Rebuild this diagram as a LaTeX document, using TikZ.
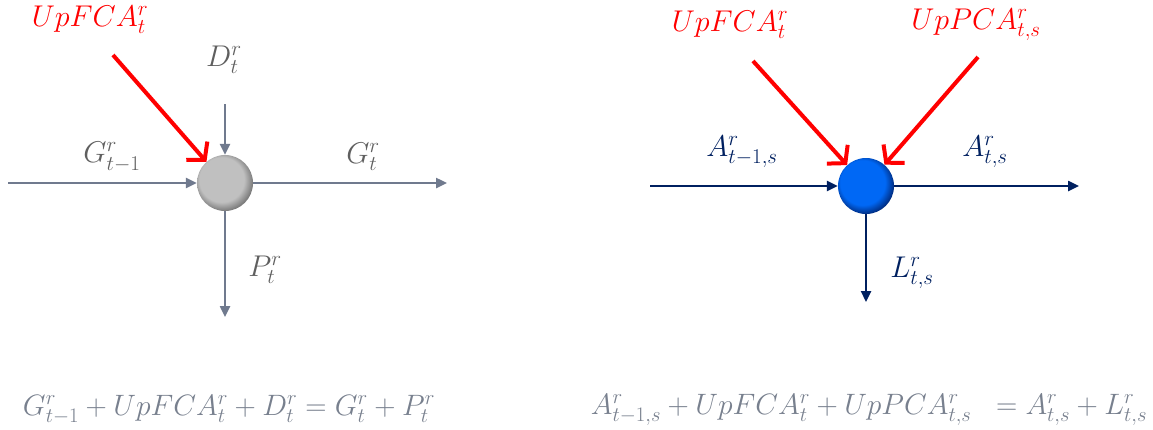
\RequirePackage{fix-cm}
\documentclass[tikz,border=0pt]{standalone}
\usepackage{tikz}
\usetikzlibrary{positioning,arrows.meta,calc}

\definecolor{flowgray}{RGB}{112,122,142}
\definecolor{labelgray}{RGB}{95,95,95}
\definecolor{eqgray}{RGB}{120,128,142}
\definecolor{navy}{RGB}{0,32,96}
\definecolor{ballgrayin}{RGB}{192,192,192}
\definecolor{ballgrayout}{RGB}{115,115,115}
\definecolor{ballbluein}{RGB}{0,104,245}
\definecolor{balldark}{RGB}{0,40,120}

\pgfdeclareradialshading{graysphere}{\pgfpoint{-5bp}{5bp}}{color(0bp)=(ballgrayin); color(20bp)=(ballgrayin); color(28bp)=(ballgrayout); color(50bp)=(ballgrayout)}
\pgfdeclareradialshading{bluesphere}{\pgfpoint{-5bp}{5bp}}{color(0bp)=(ballbluein); color(20bp)=(ballbluein); color(28bp)=(balldark); color(50bp)=(balldark)}

\begin{document}
\begin{tikzpicture}[
  x=1pt, y=-1pt,
  ball/.style={circle, minimum size=56pt, inner sep=0pt},
  lbl/.style={font=\fontsize{30}{36}\selectfont, inner sep=0pt},
  eq/.style={font=\fontsize{29.5}{36}\selectfont, text=eqgray, inner sep=0pt},
  grayarr/.style={-{Triangle[length=11pt,width=10pt]}, line width=2.4pt, flowgray},
  navyarr/.style={-{Triangle[length=11pt,width=10pt]}, line width=2.4pt, navy},
  redarr/.style={-{Straight Barb[length=12pt,width=28pt]}, line width=4pt, red}
]
\useasboundingbox (0,0) rectangle (1153,429);

% left balance node
\node[ball, shading=graysphere] (ballL) at (225,183) {};
\coordinate (inG) at (8,183);
\coordinate (outG) at (447,183);
\coordinate (inD) at (225,104);
\coordinate (outP) at (225,317);
\coordinate (inFL) at (113,55);
\draw[grayarr] (inG) -- (ballL);
\draw[grayarr] (ballL) -- (outG);
\draw[grayarr] (inD) -- (ballL);
\draw[grayarr] (ballL) -- (outP);
\draw[redarr] (inFL) -- (ballL);

\node[lbl, text=red] (upfL) at (90,20) {$UpFCA^r_t$};
\node[lbl, text=labelgray] (dL) at (224,60) {$D^r_t$};
\node[lbl, text=labelgray] (gprev) at (112,157) {$G^r_{t-1}$};
\node[lbl, text=labelgray] (gcur) at (363,157) {$G^r_t$};
\node[lbl, text=labelgray] (pL) at (265,270) {$P^r_t$};

% right balance node
\node[ball, shading=bluesphere] (ballR) at (866,186) {};
\coordinate (inA) at (650,186);
\coordinate (outA) at (1079,186);
\coordinate (outL) at (866,302);
\coordinate (inFR) at (753,61);
\coordinate (inPR) at (978,57);
\draw[navyarr] (inA) -- (ballR);
\draw[navyarr] (ballR) -- (outA);
\draw[navyarr] (ballR) -- (outL);
\draw[redarr] (inFR) -- (ballR);
\draw[redarr] (inPR) -- (ballR);

\node[lbl, text=red] (upfR) at (730,25) {$UpFCA^r_t$};
\node[lbl, text=red] (uppR) at (976,25) {$UpPCA^r_{t,s}$};
\node[lbl, text=navy] (aprev) at (742,152) {$A^r_{t-1,s}$};
\node[lbl, text=navy] (acur) at (985,152) {$A^r_{t,s}$};
\node[lbl, text=navy] (lR) at (912,273) {$L^r_{t,s}$};

% balance equations
\node[eq] (eqL) at (229,410) {$G^r_{t-1}+UpFCA^r_t+D^r_t=G^r_t+P^r_t$};
\node[eq] (eqR) at (869,410) {$A^r_{t-1,s}+UpFCA^r_t+UpPCA^r_{t,s}\;\;=A^r_{t,s}+L^r_{t,s}$};
\end{tikzpicture}
\end{document}
